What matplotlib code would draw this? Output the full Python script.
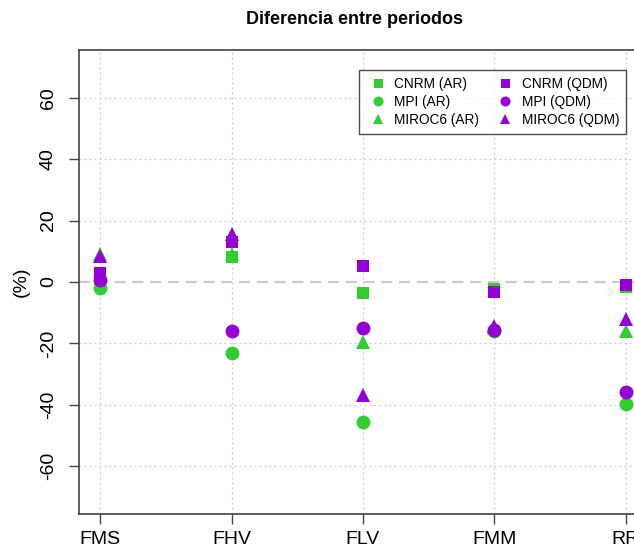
import matplotlib
matplotlib.use("Agg")
import matplotlib.pyplot as plt
from matplotlib.lines import Line2D

plt.rcParams['font.family'] = ['Liberation Sans', 'DejaVu Sans']

# Indices compared between periods
categories = ["FMS", "FHV", "FLV", "FMM", "RR"]

# Percentage differences per model and correction method
cnrm_ar = [1.0, 8.0, -3.5, -2.3, -1.5]
mpi_ar = [-2.0, -23.0, -45.5, -16.0, -39.8]
miroc6_ar = [9.0, 9.0, -19.5, -15.0, -16.0]
cnrm_qdm = [3.0, 13.0, 5.2, -3.2, -1.0]
mpi_qdm = [0.5, -15.9, -15.1, -15.5, -35.8]
miroc6_qdm = [8.5, 15.5, -36.8, -14.5, -11.9]

y_ticks = [-60, -40, -20, 0, 20, 40, 60]

green = "#32CD32"
purple = "#9400D3"

fig = plt.figure(figsize=(6.34, 5.48), dpi=100)
ax = fig.add_axes([79 / 634, 1 - 514 / 548, (647 - 79) / 634, (514 - 50) / 548])

x = list(range(1, len(categories) + 1))

# grid
for xi in x:
    ax.axvline(xi, color="#cccccc", lw=0.9, ls=(0, (1.5, 2.5)), zorder=0)
for yt in y_ticks:
    if yt != 0:
        ax.axhline(yt, color="#cccccc", lw=0.9, ls=(0, (1.5, 2.5)), zorder=0)
ax.axhline(0, color="#cccccc", lw=1.6, ls=(0, (5, 3)), zorder=0)

series = [
    (cnrm_ar, "s", green, 9, "CNRM (AR)"),
    (mpi_ar, "o", green, 10, "MPI (AR)"),
    (miroc6_ar, "^", green, 10.5, "MIROC6 (AR)"),
    (cnrm_qdm, "s", purple, 9, "CNRM (QDM)"),
    (mpi_qdm, "o", purple, 10, "MPI (QDM)"),
    (miroc6_qdm, "^", purple, 10.5, "MIROC6 (QDM)"),
]
for vals, mk, col, ms, lab in series:
    ax.plot(x, vals, ls="none", marker=mk, color=col, ms=ms, mec=col, mew=0, zorder=3)

ax.set_xlim(0.84, 5.16)
ax.set_ylim(-75.6, 75.6)
ax.set_xticks(x)
ax.set_xticklabels(categories, fontsize=14)
ax.set_yticks(y_ticks)
ax.set_yticklabels([str(v) for v in y_ticks], fontsize=14, rotation=90, va="center")
ax.tick_params(direction="out", length=7, width=1, color="#444444")
ax.tick_params(axis="x", pad=5)
ax.tick_params(axis="y", pad=9)
for sp in ax.spines.values():
    sp.set_color("#444444")
    sp.set_linewidth(1.2)
ax.set_ylabel("(%)", fontsize=14, labelpad=7)

fig.text(355 / 634, 1 - 19 / 548, "Diferencia entre periodos", ha="center", va="center",
         fontsize=13, fontweight="bold")

# legend
handles = []
for vals, mk, col, ms, lab in series:
    handles.append(Line2D([], [], ls="none", marker=mk, color=col, ms=ms * 0.72, mew=0, label=lab))
leg = fig.legend(handles=handles, ncol=2, loc="upper left",
                 bbox_to_anchor=(359 / 634, 1 - 70 / 548), borderaxespad=0,
                 fontsize=9.8, frameon=True, fancybox=False, edgecolor="#222222",
                 handletextpad=0.3, columnspacing=1.0, labelspacing=0.3,
                 borderpad=0.5, handlelength=1.8)
leg.get_frame().set_linewidth(1.0)

fig.savefig("out.png", dpi=100)
